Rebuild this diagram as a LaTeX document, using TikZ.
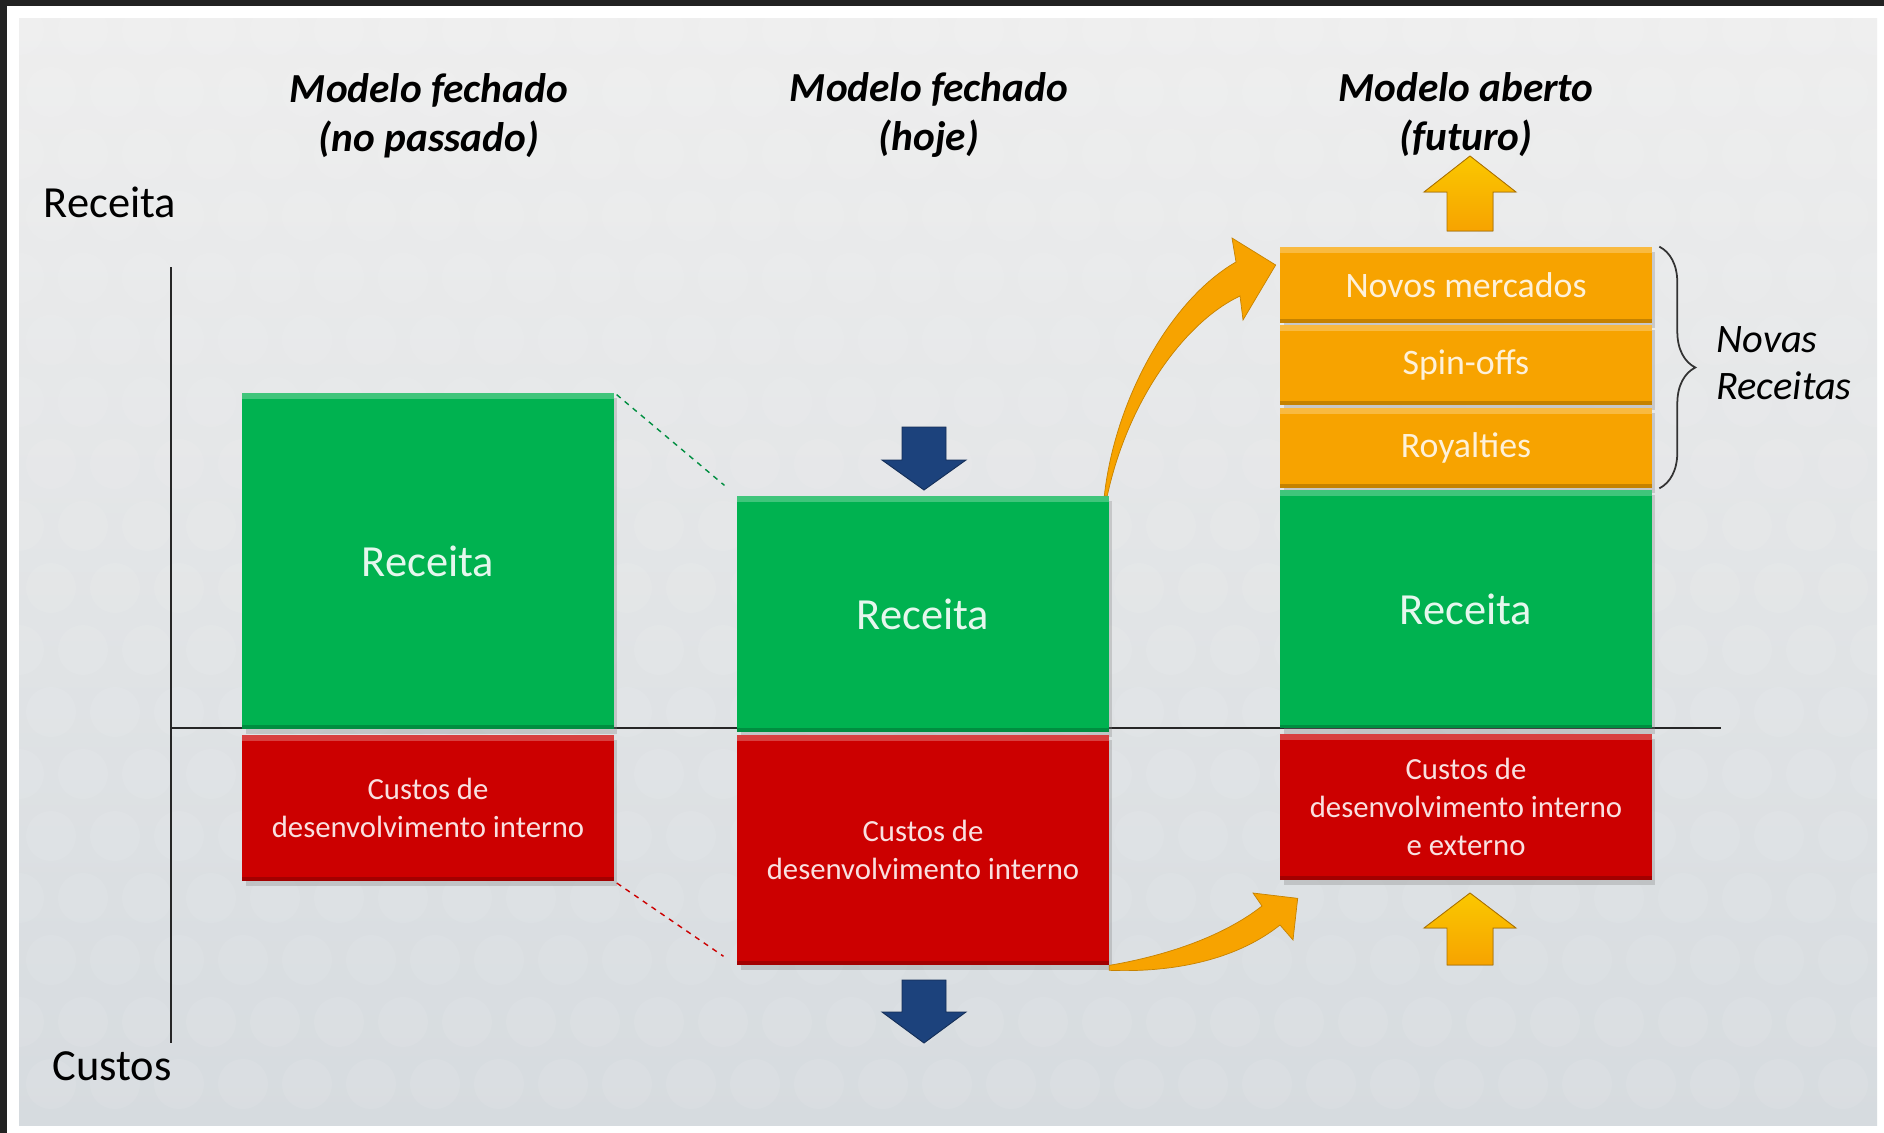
\documentclass[tikz,border=0pt]{standalone}
\usepackage{fontspec}
\setmainfont{Carlito}
\usepackage{tikz}
\usetikzlibrary{shadows}
\usetikzlibrary{decorations.pathreplacing}
\usepackage{xcolor}
\definecolor{ColGreen}{RGB}{0,178,80}
\definecolor{ColRed}{RGB}{204,0,0}
\definecolor{ColOrange}{RGB}{247,163,0}
\definecolor{ColBlue}{RGB}{28,66,124}
\definecolor{ColFrame}{RGB}{34,34,34}
\definecolor{ColSlideTop}{RGB}{238,238,238}
\definecolor{ColSlideBot}{RGB}{214,219,223}
\tikzstyle{BoxBase}=[rectangle,inner sep=0pt,minimum width=7.44cm,align=center,
drop shadow={opacity=.3,shadow xshift=2pt,shadow yshift=-3pt},
path picture={\fill[white,opacity=.25](path picture bounding box.north west)rectangle
([yshift=-3.5pt]path picture bounding box.north east);
\fill[black,opacity=.2](path picture bounding box.south west)rectangle
([yshift=2pt]path picture bounding box.south east);}]
\tikzstyle{BoxGreen}=[BoxBase,fill=ColGreen,text=ColGreen!10!white,font=\fontsize{25.3}{30}\selectfont]
\tikzstyle{BoxRed}=[BoxBase,fill=ColRed,text=ColRed!12!white,font=\fontsize{17.5}{21.5}\selectfont]
\tikzstyle{BoxOrange}=[BoxBase,fill=ColOrange,text=ColOrange!15!white,font=\fontsize{20.4}{24}\selectfont]
\tikzstyle{TitleText}=[align=center,inner sep=0pt,font=\fontsize{23.5}{28}\selectfont\bfseries\itshape]
\tikzstyle{AxisText}=[inner sep=0pt,font=\fontsize{25.3}{30}\selectfont]
\tikzstyle{AxisLine}=[black!85,line width=1.1pt]
\tikzstyle{DashLink}=[dashed,line width=.8pt,shorten >=0.32cm,shorten <=0.06cm]
\tikzstyle{DownArrow}=[fill=ColBlue,draw=ColBlue!70!black,line width=.5pt]
\tikzstyle{UpArrow}=[top color=ColOrange!60!yellow,bottom color=ColOrange,draw=ColOrange!70!black,line width=.5pt]
\tikzstyle{CurveArrow}=[fill=ColOrange,draw=ColOrange!80!black,line width=.4pt]
\tikzstyle{BraceNovas}=[decorate,decoration={brace,amplitude=0.72cm},black!80,line width=1pt]

\begin{document}
\begin{tikzpicture}[x=0.02cm,y=-0.02cm]
        \useasboundingbox(0,0)rectangle(1884,1133);
        % frame and slide
        \fill[white](0,0)rectangle(1884,1133);
        \fill[ColFrame](0,0)rectangle(1884,6);
        \fill[ColFrame](0,0)rectangle(7,1133);
        \shade[top color=ColSlideTop,bottom color=ColSlideBot](19,18)rectangle(1877,1125);
        \begin{scope}
            \clip(19,18)rectangle(1877,1125);
            \foreach \i in {0,...,29}{
                \foreach \j in {0,...,17}{
                    \fill[white,opacity=.08]({19+64*\i+32*mod(\j,2)},{30+62*\j})circle(0.5cm);
                }
            }
        \end{scope}
        % titles
        \node[TitleText](tit1)at(429,116){Modelo fechado\\(no passado)};
        \node[TitleText](tit2)at(929,115){Modelo fechado\\(hoje)};
        \node[TitleText](tit3)at(1466,115){Modelo aberto\\(futuro)};
        \node[AxisText](axr)at(110,202){Receita};
        \node[AxisText](axc)at(112,1066){Custos};
        % axes
        \coordinate(o)at(171,728);
        \draw[AxisLine](171,267)--(171,1043);
        \draw[AxisLine](o)--(1721,728);
        % boxes
        \node[BoxGreen,minimum height=6.72cm](rec1)at(428,561){Receita};
        \node[BoxRed,minimum height=2.92cm](cus1)at(428,808){Custos de\\desenvolvimento interno};
        \node[BoxGreen,minimum height=4.72cm](rec2)at(923,614){Receita};
        \node[BoxRed,minimum height=4.6cm](cus2)at(923,850){Custos de\\desenvolvimento interno};
        \node[BoxOrange,minimum height=1.52cm](nov)at(1466,285){Novos mercados};
        \node[BoxOrange,minimum height=1.6cm](spin)at(1466,365){Spin-offs};
        \node[BoxOrange,minimum height=1.6cm](roy)at(1466,448){Royalties};
        \node[BoxGreen,minimum height=4.78cm](rec3)at(1466,609){Receita};
        \node[BoxRed,minimum height=2.92cm](cus3)at(1466,807){Custos de\\desenvolvimento interno\\e externo};
        % links
        \draw[DashLink,ColGreen!80!black](rec1.north east)--(rec2.north west);
        \draw[DashLink,ColRed](cus1.south east)--(cus2.south west);
        % arrows
        \fill[DownArrow](902,427)--++(44,0)--++(0,33)--++(20,0)--++(-42,30)--++(-42,-30)--++(20,0)--cycle;
        \fill[DownArrow](902,980)--++(44,0)--++(0,32)--++(20,0)--++(-42,31)--++(-42,-31)--++(20,0)--cycle;
        \fill[UpArrow](1447,231)--++(46,0)--++(0,-39)--++(23,0)--++(-46,-36)--++(-46,36)--++(23,0)--cycle;
        \fill[UpArrow](1447,965)--++(46,0)--++(0,-37)--++(23,0)--++(-46,-35)--++(-46,35)--++(23,0)--cycle;
        \coordinate(tip1)at([shift={(-4,-20)}]nov.west);
        \coordinate(tip2)at([shift={(18,18)}]cus3.south west);
        \filldraw[CurveArrow]([xshift=-0.1cm]rec2.north east)..controls(1115,400)and(1170,300)..(1236,262)
            --(1232,238)--(tip1)--(1243,320)--(1240,296)
            ..controls(1185,322)and(1128,400)..([xshift=-0.04cm]rec2.north east)--cycle;
        \filldraw[CurveArrow](cus2.south east)..controls(1170,955)and(1225,935)..(1262,906)
            --(1253,893)--(tip2)--(1293,940)--(1280,925)
            ..controls(1240,957)and(1180,973)..([yshift=-0.1cm]cus2.south east)--cycle;
        % brace
        \draw[BraceNovas]([xshift=0.14cm]nov.north east)--([xshift=0.14cm]roy.south east);
        \node[inner sep=0pt,anchor=west,align=left,font=\fontsize{23}{27}\selectfont\itshape](novas)
            at(1716,363){Novas\\Receitas};
    \end{tikzpicture}
\end{document}
